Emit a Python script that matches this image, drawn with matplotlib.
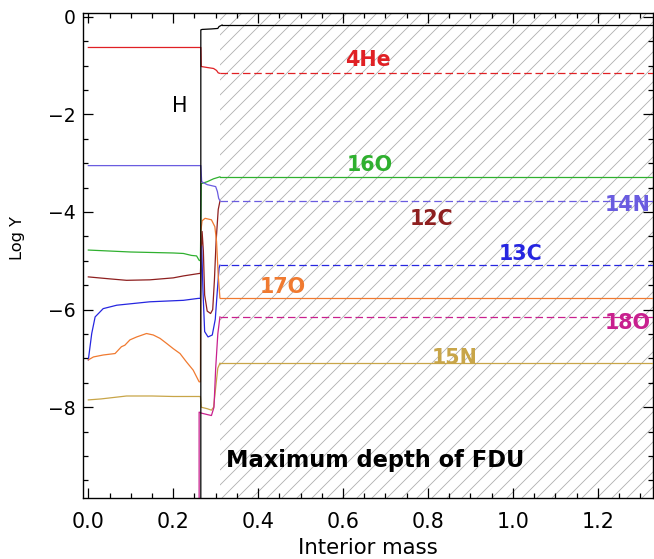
import matplotlib
matplotlib.use("Agg")
import matplotlib.pyplot as plt
from matplotlib.ticker import MultipleLocator

DPI = 90
plt.rcParams['font.family'] = ['DejaVu Sans']
plt.rcParams['hatch.color'] = '#aeaeae'
plt.rcParams['hatch.linewidth'] = 0.65

# maximum depth reached by the first dredge-up (interior mass)
fdu_x = 0.31
x_end = 1.40

# abundance profiles before FDU (Log Y vs interior mass)
h_x = [0.265, 0.265, 0.268, 0.290, 0.305, 0.308, 0.315]
h_y = [-12.0, -0.27, -0.26, -0.25, -0.24, -0.20, -0.17]
h_env = -0.17

he4_x = [0.0, 0.265, 0.266, 0.280, 0.295, 0.302, 0.306, 0.31]
he4_y = [-0.63, -0.63, -1.02, -1.04, -1.06, -1.10, -1.15, -1.16]
he4_env = -1.16

o16_x = [0.0, 0.05, 0.10, 0.15, 0.20, 0.224, 0.243, 0.255, 0.261, 0.264,
         0.266, 0.28, 0.295, 0.31]
o16_y = [-4.78, -4.80, -4.82, -4.83, -4.84, -4.85, -4.89, -4.90, -4.99, -5.00,
         -3.42, -3.38, -3.32, -3.28]
o16_env = -3.28

n14_x = [0.0, 0.265, 0.267, 0.280, 0.300, 0.304, 0.307, 0.31]
n14_y = [-3.05, -3.05, -3.38, -3.44, -3.48, -3.58, -3.72, -3.77]
n14_env = -3.77

c12_x = [0.0, 0.05, 0.09, 0.145, 0.20, 0.224, 0.261, 0.264, 0.268, 0.271,
         0.274, 0.280, 0.288, 0.293, 0.297, 0.301, 0.306, 0.31]
c12_y = [-5.33, -5.37, -5.40, -5.39, -5.35, -5.31, -5.26, -5.26, -4.40, -4.80,
         -5.70, -6.03, -6.08, -6.00, -5.40, -4.60, -3.95, -3.78]

c13_x = [0.0, 0.008, 0.016, 0.035, 0.067, 0.145, 0.224, 0.259, 0.264, 0.267,
         0.270, 0.274, 0.282, 0.292, 0.299, 0.304, 0.308, 0.31]
c13_y = [-7.03, -6.49, -6.15, -5.98, -5.91, -5.84, -5.81, -5.77, -5.77, -4.70,
         -5.60, -6.45, -6.56, -6.52, -6.20, -5.60, -5.15, -5.09]
c13_env = -5.09

o17_x = [0.0, 0.012, 0.035, 0.063, 0.078, 0.086, 0.098, 0.114, 0.137, 0.153,
         0.169, 0.184, 0.200, 0.216, 0.231, 0.247, 0.261, 0.264, 0.265, 0.268,
         0.275, 0.290, 0.298, 0.302, 0.306, 0.31]
o17_y = [-7.03, -6.97, -6.93, -6.90, -6.76, -6.73, -6.62, -6.56, -6.49, -6.52,
         -6.59, -6.69, -6.80, -6.90, -7.07, -7.24, -7.48, -7.48, -4.40, -4.18,
         -4.13, -4.16, -4.30, -4.60, -5.30, -5.76]
o17_env = -5.76

o18_x = [0.261, 0.261, 0.266, 0.280, 0.290, 0.296, 0.300, 0.305, 0.31]
o18_y = [-12.0, -8.10, -8.12, -8.15, -8.17, -8.00, -7.20, -6.50, -6.15]
o18_env = -6.15

n15_x = [0.0, 0.03, 0.09, 0.15, 0.20, 0.262, 0.264, 0.266, 0.280, 0.290,
         0.295, 0.300, 0.305, 0.31]
n15_y = [-7.85, -7.83, -7.77, -7.77, -7.78, -7.78, -7.78, -8.00, -8.03, -8.06,
         -8.00, -7.60, -7.20, -7.10]
n15_env = -7.10

fig = plt.figure(figsize=(654 / DPI, 559 / DPI), dpi=DPI)
ax = fig.add_axes([0.1274, 0.1091, 0.8716, 0.8676])

# shaded region reached by the convective envelope
ax.axvspan(fdu_x, x_end, facecolor='none', edgecolor='#aeaeae', hatch='//',
           linewidth=0, zorder=-1)

lw = 1.0
dash = (0, (6, 3))

def species(xs, ys, env, color, dashed):
    ax.plot(xs, ys, color=color, lw=lw, zorder=2)
    if env is not None:
        ax.plot([xs[-1], x_end], [env, env], color=color, lw=lw,
                ls=dash if dashed else '-', zorder=3)

species(he4_x, he4_y, he4_env, '#e02024', True)
species(o16_x, o16_y, o16_env, '#2fb02f', False)
species(c12_x, c12_y, None, '#8e1f1f', False)
species(n14_x, n14_y, n14_env, '#6a5ce0', True)
species(c13_x, c13_y, c13_env, '#2626e0', True)
species(o17_x, o17_y, o17_env, '#f07a30', False)
species(n15_x, n15_y, n15_env, '#c8a548', False)
species(o18_x, o18_y, o18_env, '#c8208e', True)
species(h_x, h_y, h_env, 'black', False)

# labels
lab = dict(fontsize=16.5, fontweight='bold', ha='center', va='center')
ax.text(0.658, -0.89, '4He', color='#e02024', **lab)
ax.text(0.663, -3.04, '16O', color='#2fb02f', **lab)
ax.text(1.27, -3.86, '14N', color='#6a5ce0', **lab)
ax.text(0.809, -4.15, '12C', color='#8e1f1f', **lab)
ax.text(1.018, -4.87, '13C', color='#2626e0', **lab)
ax.text(0.458, -5.54, '17O', color='#f07a30', **lab)
ax.text(1.27, -6.28, '18O', color='#c8208e', **lab)
ax.text(0.863, -7.00, '15N', color='#c8a548', **lab)
ax.text(0.216, -1.83, 'H', fontsize=16.5, ha='center', va='center')
ax.text(0.675, -9.10, 'Maximum depth of FDU', fontsize=18, fontweight='bold',
        ha='center', va='center')

ax.set_xlim(-0.0118, 1.331)
ax.set_ylim(-9.86, 0.076)
ax.xaxis.set_major_locator(MultipleLocator(0.2))
ax.xaxis.set_minor_locator(MultipleLocator(0.05))
ax.yaxis.set_major_locator(MultipleLocator(2))
ax.yaxis.set_minor_locator(MultipleLocator(0.5))
ax.xaxis.set_major_formatter(matplotlib.ticker.FormatStrFormatter('%.1f'))
ax.yaxis.set_major_formatter(matplotlib.ticker.FuncFormatter(
    lambda v, p: '0' if v == 0 else '\u2212%d' % abs(v)))

ax.tick_params(which='both', direction='in', top=True, right=True, width=1)
ax.tick_params(which='major', length=8)
ax.tick_params(which='minor', length=4)
ax.tick_params(axis='x', labelsize=16.5, pad=11)
ax.tick_params(axis='y', labelsize=15, pad=6)
for s in ax.spines.values():
    s.set_linewidth(1.1)

ax.set_xlabel('Interior mass', fontsize=17)
ax.set_ylabel('Log Y', fontsize=13)
ax.xaxis.set_label_coords(0.499, -0.103)
ax.xaxis.label.set_va('center')
ax.yaxis.set_label_coords(-0.115, 0.536)
ax.yaxis.label.set_va('center')

fig.savefig('out.png', dpi=DPI)
